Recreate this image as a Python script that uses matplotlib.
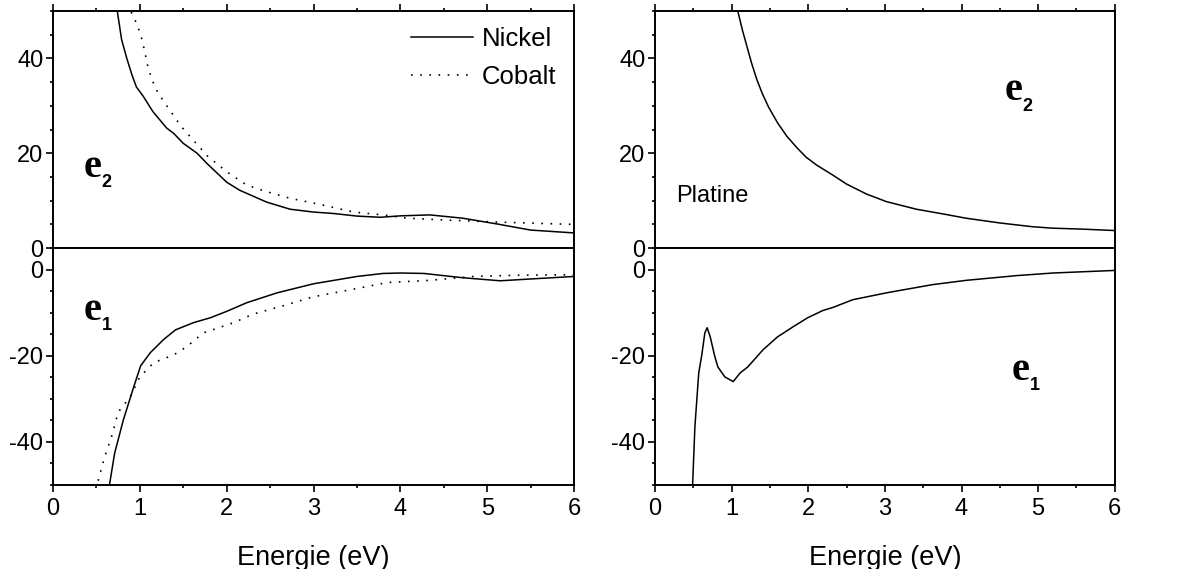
import numpy as np
import matplotlib
matplotlib.use('Agg')
from matplotlib import pyplot as plt
from matplotlib.ticker import MultipleLocator

plt.rcParams['font.family'] = ['Liberation Sans', 'DejaVu Sans']
plt.rcParams['axes.unicode_minus'] = False

# Nickel / Cobalt : partie imaginaire e2
ni_e2_x = [0.74, 0.79, 0.85, 0.91, 0.96, 1.04, 1.15, 1.31, 1.39, 1.50, 1.66, 1.77, 2.0, 2.15,
           2.46, 2.73, 3.0, 3.23, 3.50, 3.77, 4.0, 4.34, 4.72, 5.11, 5.5, 6.0]
ni_e2_y = [50, 44.0, 40.0, 36.5, 34.0, 32.0, 28.8, 25.3, 24.2, 22.1, 20.0, 17.9, 13.9, 12.2,
           9.7, 8.2, 7.6, 7.3, 6.75, 6.5, 6.8, 7.0, 6.3, 5.1, 3.8, 3.2]
co_e2_x = [0.90, 0.96, 1.01, 1.05, 1.09, 1.14, 1.21, 1.33, 1.47, 1.58, 1.78, 2.0, 2.23, 2.46,
           2.73, 3.08, 3.46, 3.80, 4.08, 4.54, 5.11, 5.8, 6.0]
co_e2_y = [49.8, 47.5, 45, 42, 38.5, 35.5, 32.7, 29.5, 25.8, 23.5, 19.4, 16.1, 13.3, 11.9,
           10.5, 9.2, 7.6, 7.0, 6.3, 5.9, 5.5, 5.1, 5.0]

# Nickel / Cobalt : partie reelle e1
ni_e1_x = [0.65, 0.71, 0.81, 0.93, 1.01, 1.12, 1.27, 1.41, 1.62, 1.81, 2.0, 2.23, 2.58, 3.0,
           3.5, 3.8, 4.0, 4.27, 4.72, 5.15, 5.57, 6.0]
ni_e1_y = [-50, -42.6, -34.9, -27.2, -22.3, -19.3, -16.3, -14.0, -12.3, -11.2, -9.7, -7.7,
           -5.4, -3.3, -1.6, -0.9, -0.8, -0.9, -1.9, -2.6, -2.1, -1.6]
co_e1_x = [0.52, 0.59, 0.68, 0.75, 0.89, 1.0, 1.16, 1.39, 1.54, 1.73, 2.07, 2.31, 2.65, 3.0,
           3.5, 3.85, 4.34, 4.84, 5.38, 6.0]
co_e1_y = [-49, -43.8, -38.4, -33.1, -29.5, -24.9, -21.6, -19.8, -17.9, -14.7, -12.4, -10.3,
           -8.4, -6.3, -4.4, -3.0, -2.5, -1.6, -1.3, -1.2]

# Platine
pt_e2_x = [1.08, 1.14, 1.20, 1.26, 1.33, 1.40, 1.48, 1.60, 1.72, 1.85, 1.97, 2.11, 2.32, 2.50,
           2.76, 3.02, 3.41, 3.76, 4.06, 4.50, 4.93, 5.19, 5.58, 6.0]
pt_e2_y = [50, 46.0, 42.5, 39.0, 35.5, 32.6, 29.8, 26.4, 23.6, 21.2, 19.2, 17.5, 15.4, 13.5,
           11.4, 9.8, 8.2, 7.2, 6.3, 5.3, 4.5, 4.2, 4.0, 3.7]
pt_e1_x = [0.49, 0.52, 0.57, 0.61, 0.65, 0.68, 0.72, 0.78, 0.82, 0.91, 1.02, 1.11, 1.21, 1.41,
           1.60, 1.80, 1.99, 2.19, 2.32, 2.58, 3.02, 3.62, 4.06, 4.72, 5.19, 6.0]
pt_e1_y = [-50, -36.5, -24.0, -19.8, -14.7, -13.5, -15.6, -20.2, -22.6, -24.9, -26.0, -24.0,
           -22.6, -18.6, -15.6, -13.3, -11.2, -9.5, -8.8, -7.0, -5.4, -3.5, -2.5, -1.4, -0.8, -0.2]

fig = plt.figure(figsize=(11.91, 5.69), dpi=100)

ax_lt = fig.add_axes([0.0445, 0.564, 0.4375, 0.4165])
ax_lb = fig.add_axes([0.0445, 0.1476, 0.4375, 0.4165])
ax_rt = fig.add_axes([0.55, 0.564, 0.386, 0.4165])
ax_rb = fig.add_axes([0.55, 0.1476, 0.386, 0.4165])

lw = 1.1
ax_lt.plot(ni_e2_x, ni_e2_y, 'k-', lw=lw, label='Nickel')
ax_lt.plot(co_e2_x, co_e2_y, color='k', lw=1.2, ls=(0, (1, 4.5)), label='Cobalt')
ax_lb.plot(ni_e1_x, ni_e1_y, 'k-', lw=lw)
ax_lb.plot(co_e1_x, co_e1_y, color='k', lw=1.2, ls=(0, (1, 4.5)))
ax_rt.plot(pt_e2_x, pt_e2_y, 'k-', lw=lw)
ax_rb.plot(pt_e1_x, pt_e1_y, 'k-', lw=lw)

leg = ax_lt.legend(loc='upper right', bbox_to_anchor=(0.995, 1.0), frameon=False,
                   fontsize=18.5, handlelength=2.4, handletextpad=0.35,
                   borderaxespad=0.2, labelspacing=0.55)


def label_e(ax, x, y, sub):
    ax.text(x, y, 'e', family='Liberation Serif', weight='bold', fontsize=29,
            ha='left', va='baseline')
    ax.annotate(sub, (x, y), xytext=(13, -7.5), textcoords='offset points',
                family='Liberation Sans', weight='bold', fontsize=13,
                ha='left', va='baseline')


label_e(ax_lt, 0.35, 15.0, '2')
label_e(ax_lb, 0.35, -11.6, '1')
label_e(ax_rt, 4.56, 31.2, '2')
label_e(ax_rb, 4.65, -25.6, '1')
ax_rt.text(0.27, 9.7, 'Platine', fontsize=17, ha='left', va='baseline')

for ax in (ax_lt, ax_lb, ax_rt, ax_rb):
    ax.set_xlim(0, 6)
    ax.xaxis.set_major_locator(MultipleLocator(1))
    ax.xaxis.set_minor_locator(MultipleLocator(0.5))
    ax.yaxis.set_major_locator(MultipleLocator(20))
    ax.yaxis.set_minor_locator(MultipleLocator(5))
    for s in ax.spines.values():
        s.set_linewidth(1.4)
    ax.tick_params(which='both', direction='out', width=1.2, labelsize=17, pad=2)
    ax.tick_params(axis='x', pad=4)
    ax.tick_params(which='major', length=5)
    ax.tick_params(which='minor', length=2.5)

for ax in (ax_lt, ax_rt):
    ax.set_ylim(0, 50)
    ax.tick_params(axis='x', labelbottom=False)
    ax.tick_params(axis='x', which='both', top=True, labeltop=False)

for ax in (ax_lb, ax_rb):
    ax.set_ylim(-50, 5)
    ax.set_xlabel('Energie (eV)', fontsize=19.5, labelpad=18)

plt.savefig('out.png', dpi=100)
